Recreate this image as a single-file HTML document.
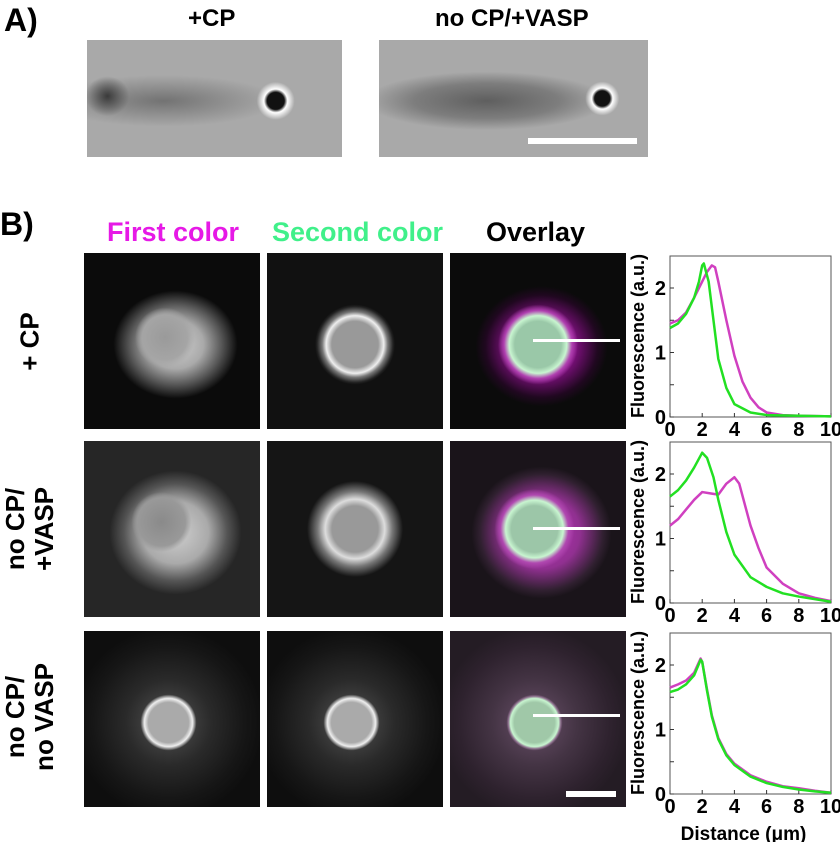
<!DOCTYPE html>
<html><head><meta charset="utf-8"><style>
body{margin:0;background:#fff;width:840px;height:842px;overflow:hidden;position:relative;font-family:"Liberation Sans",Arial,sans-serif;font-weight:bold}
.abs{position:absolute}
.img{position:absolute;width:176px;height:176px;background:#0b0b0b}
.lbl{position:absolute;font-size:27px;font-weight:bold;white-space:nowrap}
.rot{position:absolute;transform:rotate(-90deg);transform-origin:center;font-size:26px;line-height:29px;text-align:center;white-space:nowrap}
</style></head><body>
<div class="lbl" style="left:4px;top:2px;font-size:32px">A)</div>
<div class="lbl" style="left:188px;top:5px;font-size:24px">+CP</div>
<div class="lbl" style="left:435px;top:5px;font-size:24px">no CP/+VASP</div>
<div class="abs" style="left:87px;top:40px;width:255px;height:117px;background:radial-gradient(ellipse 19px 19px at 74% 52%,#111 45%,#fff 62%,rgba(255,255,255,0) 100%),radial-gradient(ellipse 22px 20px at 8% 48%,#3a3a3a,rgba(0,0,0,0) 100%),radial-gradient(ellipse 45% 22% at 30% 52%,rgba(70,70,70,.55),rgba(0,0,0,0) 100%),#a9a9a9"></div>
<div class="abs" style="left:379px;top:40px;width:269px;height:117px;background:radial-gradient(ellipse 17px 17px at 83% 50%,#111 45%,#fff 62%,rgba(255,255,255,0) 100%),radial-gradient(ellipse 45% 25% at 40% 52%,rgba(55,55,55,.65),rgba(60,60,60,.4) 60%,rgba(0,0,0,0) 100%),#a9a9a9"></div>
<div class="abs" style="left:528px;top:138px;width:109px;height:6px;background:#fff"></div>

<div class="lbl" style="left:0px;top:206px;font-size:32px">B)</div>
<div class="lbl" style="left:107px;top:217px;color:#e619e6">First color</div>
<div class="lbl" style="left:272px;top:217px;color:#40f08a">Second color</div>
<div class="lbl" style="left:486px;top:217px">Overlay</div>

<div class="rot" style="left:-15px;top:327px;width:90px">+ CP</div>
<div class="rot" style="left:-25px;top:500px;width:110px">no CP/<br>+VASP</div>
<div class="rot" style="left:-30px;top:688px;width:120px">no CP/<br>no VASP</div>

<!-- row 1 -->
<div class="img" style="left:84px;top:253px;background:radial-gradient(circle 30px at 46% 48%,#9a9a9a,#a5a5a5 75%,rgba(0,0,0,0) 100%),radial-gradient(ellipse 62px 54px at 52% 52%,#d0d0d0,#aaa 45%,#555 75%,#1a1a1a 95%,#0b0b0b 100%)"></div>
<div class="img" style="left:267px;top:253px;background:radial-gradient(circle 40px at 50% 52%,#999 58%,#eee 72%,#777 82%,#222 95%,#111 100%)"></div>
<div class="img" style="left:450px;top:253px;background:radial-gradient(circle 40px at 50% 52%,#9ac8a8 58%,#c8f5d0 72%,#b040b0 85%,rgba(0,0,0,0) 100%),radial-gradient(ellipse 66px 60px at 52% 53%,#c020c0,#801080 50%,#200820 85%,#0b0b0b 100%)"></div>
<div class="abs" style="left:533px;top:339px;width:87px;height:3px;background:#fff"></div>
<!-- row 2 -->
<div class="img" style="left:84px;top:441px;background:radial-gradient(circle 30px at 44% 46%,#8a8a8a,#999 80%,rgba(0,0,0,0) 100%),radial-gradient(ellipse 66px 62px at 52% 52%,#d0d0d0,#aaa 50%,#555 78%,#262626 100%)"></div>
<div class="img" style="left:267px;top:441px;background:radial-gradient(circle 48px at 50% 50%,#999 48%,#ddd 62%,#777 78%,#2a2a2a 95%,#151515 100%)"></div>
<div class="img" style="left:450px;top:441px;background:radial-gradient(circle 40px at 48% 50%,#9cc6a8 58%,#c8f5d0 72%,#b048b0 85%,rgba(0,0,0,0) 100%),radial-gradient(ellipse 70px 66px at 52% 52%,#c030c0,#903090 55%,#302030 88%,#1a141a 100%)"></div>
<div class="abs" style="left:533px;top:527px;width:87px;height:3px;background:#fff"></div>
<!-- row 3 -->
<div class="img" style="left:84px;top:631px;background:radial-gradient(circle 28px at 48% 52%,#aaa 72%,#eee 86%,#888 94%,rgba(0,0,0,0) 100%),radial-gradient(circle 95px at 48% 52%,#555,#2a2a2a 45%,#161616 80%,#0e0e0e)"></div>
<div class="img" style="left:267px;top:631px;background:radial-gradient(circle 28px at 48% 52%,#aaa 72%,#eee 86%,#888 94%,rgba(0,0,0,0) 100%),radial-gradient(circle 95px at 48% 52%,#555,#2a2a2a 45%,#161616 80%,#0e0e0e)"></div>
<div class="img" style="left:450px;top:631px;background:radial-gradient(circle 28px at 48% 52%,#a0c8a8 72%,#c8f5d0 86%,#8a6a8a 94%,rgba(0,0,0,0) 100%),radial-gradient(circle 95px at 48% 52%,#6a506a,#443444 45%,#2e222e 80%,#241c24)"></div>
<div class="abs" style="left:533px;top:714px;width:87px;height:3px;background:#fff"></div>
<div class="abs" style="left:566px;top:791px;width:50px;height:6px;background:#fff"></div>

<svg id="charts" class="abs" style="left:0;top:0" width="840" height="842"></svg>
<script>
const xTicks=[0,2,4,6,8,10];
const yTicks=[0,1,2];
const c1x=[0,0.5,1,1.5,2,2.3,2.6,2.8,3,3.5,4,4.5,5,5.5,6,7,8,10];
const c1m=[1.45,1.5,1.62,1.85,2.1,2.25,2.35,2.32,2.1,1.5,0.95,0.55,0.3,0.15,0.07,0.03,0.02,0.01];
const c1gx=[0,0.5,1,1.5,1.8,2,2.1,2.4,2.7,3,3.5,4,5,6,10];
const c1g=[1.38,1.45,1.6,1.85,2.1,2.35,2.38,2.1,1.5,0.9,0.45,0.2,0.07,0.03,0.01];
const c2gx=[0,0.5,1,1.5,2,2.3,2.7,3,3.5,4,5,6,7,8,10];
const c2g=[1.65,1.75,1.9,2.1,2.33,2.25,1.95,1.6,1.1,0.75,0.4,0.25,0.15,0.1,0.02];
const c2mx=[0,0.5,1,1.5,2,2.5,3,3.5,4,4.3,5,5.5,6,7,8,9,10];
const c2m=[1.2,1.3,1.45,1.6,1.72,1.7,1.68,1.85,1.95,1.85,1.2,0.85,0.55,0.3,0.15,0.08,0.03];
const c3x=[0,0.5,1,1.5,1.9,2,2.3,2.6,3,3.5,4,5,6,7,8,9,10];
const c3m=[1.65,1.7,1.76,1.88,2.1,2.05,1.62,1.22,0.87,0.62,0.47,0.29,0.19,0.12,0.09,0.05,0.02];
const c3g=[1.58,1.62,1.7,1.84,2.08,2.05,1.6,1.2,0.85,0.6,0.45,0.27,0.17,0.11,0.07,0.04,0.02];
const svg=document.getElementById('charts');const NS='http://www.w3.org/2000/svg';
function mk(t,a){const e=document.createElementNS(NS,t);for(const k in a)e.setAttribute(k,a[k]);svg.appendChild(e);return e;}
function chart(top,name,series,showX){
  const L=670,R=831,B=top+161;
  const sx=v=>L+(R-L)*v/10, sy=v=>B-64.5*v;
  const box=mk('rect',{x:L,y:top,width:R-L,height:161,fill:'none',stroke:'#555','stroke-width':1});
  
  [0,0.5,1,1.5,2].forEach(v=>{const t=mk('line',{x1:L,x2:L+4,y1:sy(v),y2:sy(v),stroke:'#333'});});
  xTicks.forEach(v=>{const t=mk('line',{x1:sx(v),x2:sx(v),y1:B,y2:B-4,stroke:'#333'});
    const l=mk('text',{x:sx(v),y:B+19,'text-anchor':'middle','font-size':20,'font-weight':'bold','font-family':'Liberation Sans'});l.textContent=v;});
  yTicks.forEach(v=>{const l=mk('text',{x:L-4,y:sy(v)+7,'text-anchor':'end','font-size':20,'font-weight':'bold','font-family':'Liberation Sans'});l.textContent=v;});
  const yt=mk('text',{x:0,y:0,transform:`translate(644,${top+80}) rotate(-90)`,'text-anchor':'middle','font-size':18,'font-weight':'bold','font-family':'Liberation Sans'});yt.textContent='Fluorescence (a.u.)';
  
  series.forEach(s=>{const d=s.x.map((v,i)=>(i?'L':'M')+sx(v)+','+sy(s.y[i])).join(' ');
    const p=mk('path',{d:d,fill:'none',stroke:s.c,'stroke-width':2.5,'stroke-linejoin':'round'});});
  if(showX){const xt=mk('text',{x:(L+R)/2-7,y:B+46,'text-anchor':'middle','font-size':19,'font-weight':'bold','font-family':'Liberation Sans'});xt.textContent='Distance (μm)';}
}
chart(256,'chart-cp',[{x:c1x,y:c1m,c:'#d040c0',n:'first-color-line'},{x:c1gx,y:c1g,c:'#22e022',n:'second-color-line'}],false);
chart(442,'chart-vasp',[{x:c2mx,y:c2m,c:'#d040c0',n:'first-color-line'},{x:c2gx,y:c2g,c:'#22e022',n:'second-color-line'}],false);
chart(633,'chart-novasp',[{x:c3x,y:c3m,c:'#d040c0',n:'first-color-line'},{x:c3x,y:c3g,c:'#22e022',n:'second-color-line'}],true);
</script>
</body></html>
